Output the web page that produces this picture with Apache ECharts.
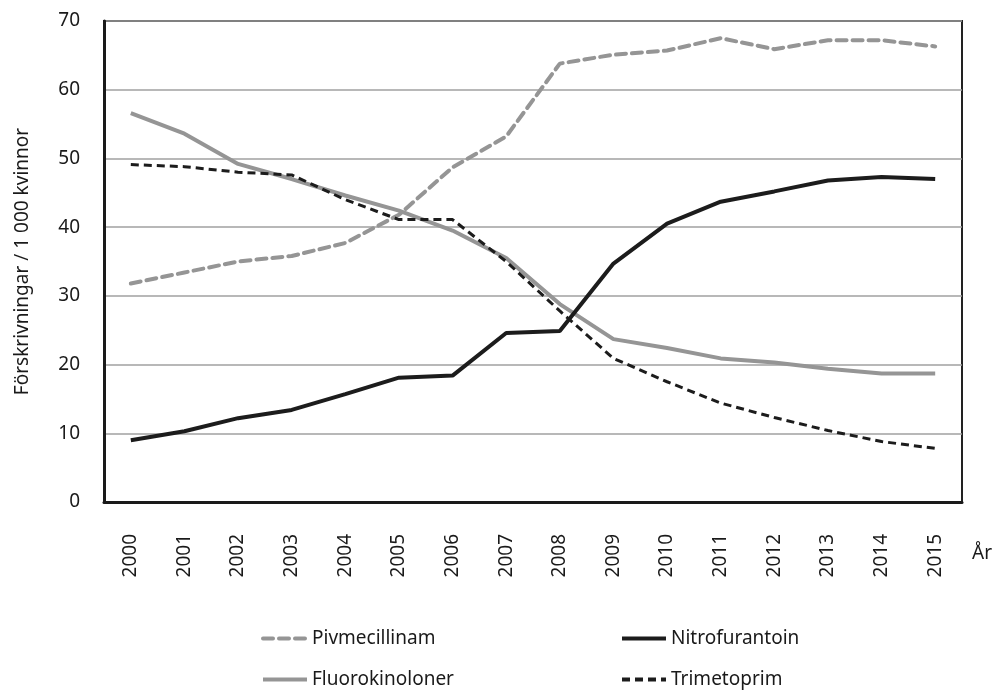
<!DOCTYPE html>
<html>
<head>
<meta charset="utf-8">
<script src="https://cdn.jsdelivr.net/npm/echarts@6/dist/echarts.min.js"></script>
<style>
  html, body { margin: 0; padding: 0; background: #fff; }
  #chart { width: 1007px; height: 698px; }
</style>
</head>
<body>
<div id="chart"></div>
<script>
// år och värden (förskrivningar / 1 000 kvinnor)
var years = ['2000', '2001', '2002', '2003', '2004', '2005', '2006', '2007',
             '2008', '2009', '2010', '2011', '2012', '2013', '2014', '2015'];
var pivmecillinam = [31.8, 33.4, 35.0, 35.8, 37.7, 41.8, 48.7, 53.2, 63.8, 65.1, 65.7, 67.5, 65.9, 67.2, 67.2, 66.3];
var nitrofurantoin = [9.0, 10.3, 12.2, 13.4, 15.7, 18.1, 18.4, 24.6, 24.9, 34.7, 40.5, 43.7, 45.2, 46.8, 47.3, 47.0];
var fluorokinoloner = [56.6, 53.6, 49.2, 47.0, 44.6, 42.4, 39.5, 35.5, 28.8, 23.7, 22.4, 20.9, 20.3, 19.4, 18.7, 18.7];
var trimetoprim = [49.1, 48.8, 48.0, 47.6, 44.0, 41.1, 41.1, 35.0, 27.8, 20.9, 17.5, 14.4, 12.3, 10.4, 8.8, 7.8];
var yTicks = [0, 10, 20, 30, 40, 50, 60, 70];

var grey = '#959595';
var black = '#1c1c1c';
var font = 'Noto Sans';

var myChart = echarts.init(document.getElementById('chart'));

var legendBase = {
    top: 624,
    orient: 'vertical',
    itemWidth: 44,
    itemHeight: 14,
    itemGap: 22,
    lineStyle: { width: 4 },
    itemStyle: { opacity: 0 },
    textStyle: { fontSize: 19, color: '#1a1a1a', fontFamily: font }
};

myChart.setOption({
    animation: false,
    textStyle: { fontFamily: font },
    grid: {
        left: 104,
        right: 45,
        top: 21,
        bottom: 196,
        show: true,
        borderColor: '#222',
        borderWidth: 2
    },
    legend: [
        Object.assign({}, legendBase, { left: 256, data: ['Pivmecillinam', 'Fluorokinoloner'] }),
        Object.assign({}, legendBase, { left: 615, data: ['Nitrofurantoin', 'Trimetoprim'] })
    ],
    xAxis: {
        type: 'category',
        data: years,
        boundaryGap: true,
        name: 'År',
        nameLocation: 'end',
        nameGap: 10,
        nameTextStyle: { fontSize: 19, color: '#1a1a1a', verticalAlign: 'top', padding: [42, 0, 0, 0] },
        axisLine: { lineStyle: { color: '#1a1a1a', width: 3 } },
        axisTick: { alignWithLabel: true, length: 10, lineStyle: { color: '#1a1a1a', width: 2 } },
        axisLabel: { rotate: 90, fontSize: 19, color: '#1a1a1a', margin: 32 },
        splitLine: { show: false }
    },
    yAxis: {
        type: 'value',
        min: 0,
        max: 70,
        interval: 10,
        name: 'Förskrivningar / 1 000 kvinnor',
        nameLocation: 'middle',
        nameGap: 72,
        nameTextStyle: { fontSize: 19, color: '#1a1a1a' },
        axisLine: { show: true, lineStyle: { color: '#1a1a1a', width: 3 } },
        axisTick: { show: false },
        axisLabel: {
            fontSize: 19, color: '#1a1a1a', margin: 24,
            formatter: function (v) { return yTicks.indexOf(v) >= 0 ? String(v) : ''; }
        },
        splitLine: { lineStyle: { color: '#a0a0a0', width: 1.5 } }
    },
    series: [
        {
            name: 'Pivmecillinam',
            type: 'line',
            data: pivmecillinam,
            symbol: 'none',
            itemStyle: { color: grey },
            lineStyle: { color: grey, width: 4, type: [10, 6], cap: 'round' }
        },
        {
            name: 'Fluorokinoloner',
            type: 'line',
            data: fluorokinoloner,
            symbol: 'none',
            itemStyle: { color: grey },
            lineStyle: { color: grey, width: 4 }
        },
        {
            name: 'Nitrofurantoin',
            type: 'line',
            data: nitrofurantoin,
            symbol: 'none',
            itemStyle: { color: black },
            lineStyle: { color: black, width: 4 }
        },
        {
            name: 'Trimetoprim',
            type: 'line',
            data: trimetoprim,
            symbol: 'none',
            itemStyle: { color: black },
            lineStyle: { color: black, width: 3, type: [8, 5] }
        }
    ]
});
</script>
</body>
</html>
